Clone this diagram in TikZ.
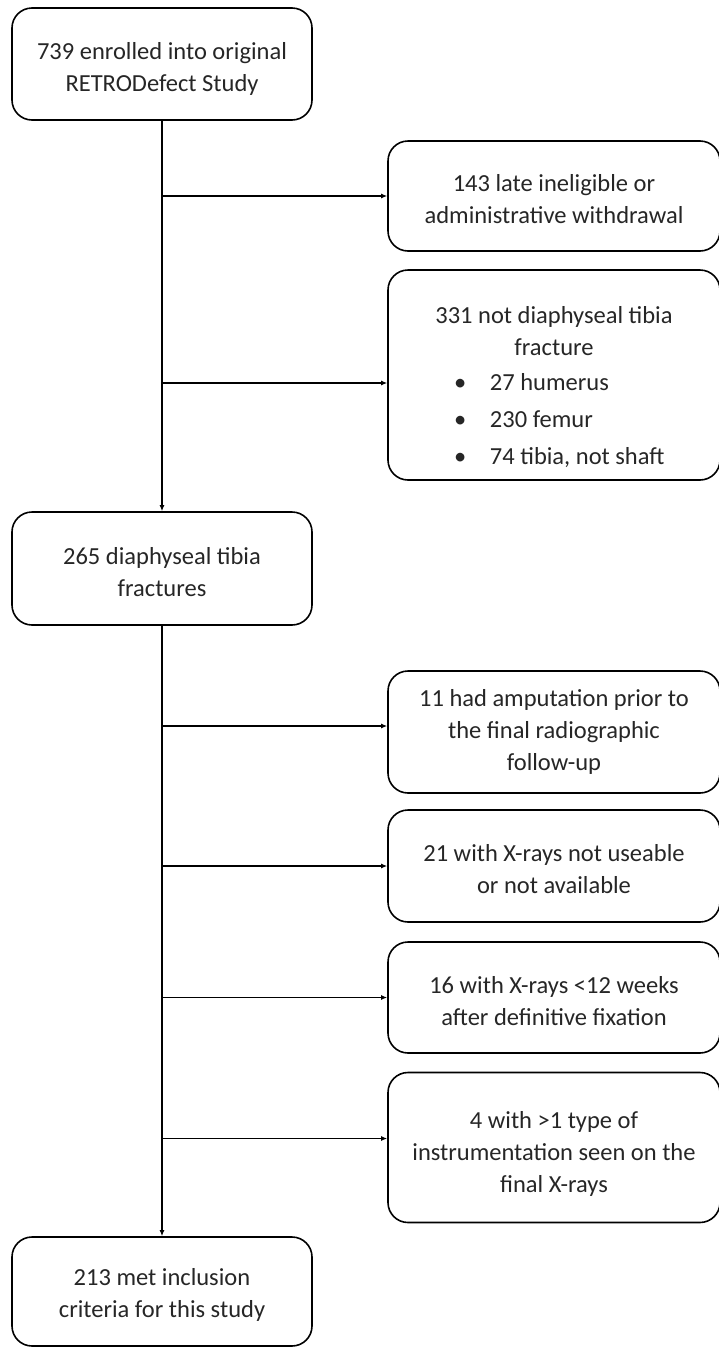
\documentclass[tikz,border=0pt]{standalone}
\usepackage{fontspec}
\setmainfont{Carlito}
\usetikzlibrary{arrows.meta}
\tikzset{
  box/.style={draw=black, line width=1.6pt, rounded corners=20pt, align=center,
    inner sep=0pt, text=black!85, font=\fontsize{24.5}{32}\selectfont},
  lbox/.style={box, minimum width=300pt},
  rbox/.style={box, minimum width=332pt},
  link/.style={line width=1.6pt, -{Latex[length=6pt,width=5pt]}},
}
\newcommand{\blt}[1]{\makebox[200pt][l]{\makebox[36pt][l]{\textbullet}#1}}
\newcommand{\lift}[1]{\rule{0pt}{#1}}
\begin{document}
\begin{tikzpicture}[x=1pt,y=-1pt]
\useasboundingbox (0,0) rectangle (718,1347);
\node[lbox, minimum height=112pt] (b1) at (162,64) {\lift{26pt}739 enrolled into original\\RETRODefect Study};
\node[rbox, minimum height=110pt] (b2) at (554,196) {\lift{24pt}143 late ineligible or\\administrative withdrawal};
\node[rbox, minimum height=210pt] (b3) at (554,375) {\lift{42pt}331 not diaphyseal tibia\\fracture\\[3pt]\blt{27 humerus}\\[5pt]\blt{230 femur}\\[5pt]\blt{74 tibia, not shaft}};
\node[lbox, minimum height=113pt] (b4) at (162,568.5) {\lift{24pt}265 diaphyseal tibia\\fractures};
\node[rbox, minimum height=122pt] (b5) at (554,732) {11 had amputation prior to\\the final radiographic\\follow-up};
\node[rbox, minimum height=112pt] (b6) at (554,866) {\lift{24pt}21 with X-rays not useable\\or not available};
\node[rbox, minimum height=111pt] (b7) at (554,997.5) {\lift{24pt}16 with X-rays <12 weeks\\after definitive fixation};
\node[rbox, minimum height=150pt] (b8) at (554,1147.5) {\lift{30pt}4 with >1 type of\\instrumentation seen on the\\final X-rays};
\node[lbox, minimum height=109pt] (b9) at (162,1291.5) {\lift{24pt}213 met inclusion\\criteria for this study};
\coordinate (a3) at ([yshift=-8pt]b3.west);
\coordinate (a5) at ([yshift=6pt]b5.west);
\coordinate (a8) at ([yshift=9pt]b8.west);
% spine
\draw[link] (b1.south) -- (b4.north);
\draw[link] (b4.south) -- (b9.north);
% branches
\draw[link] (b1.south |- b2.west) -- (b2.west);
\draw[link] (b1.south |- a3) -- (a3);
\draw[link] (b4.south |- a5) -- (a5);
\draw[link] (b4.south |- b6.west) -- (b6.west);
\draw[link] (b4.south |- b7.west) -- (b7.west);
\draw[link] (b4.south |- a8) -- (a8);
\end{tikzpicture}
\end{document}
